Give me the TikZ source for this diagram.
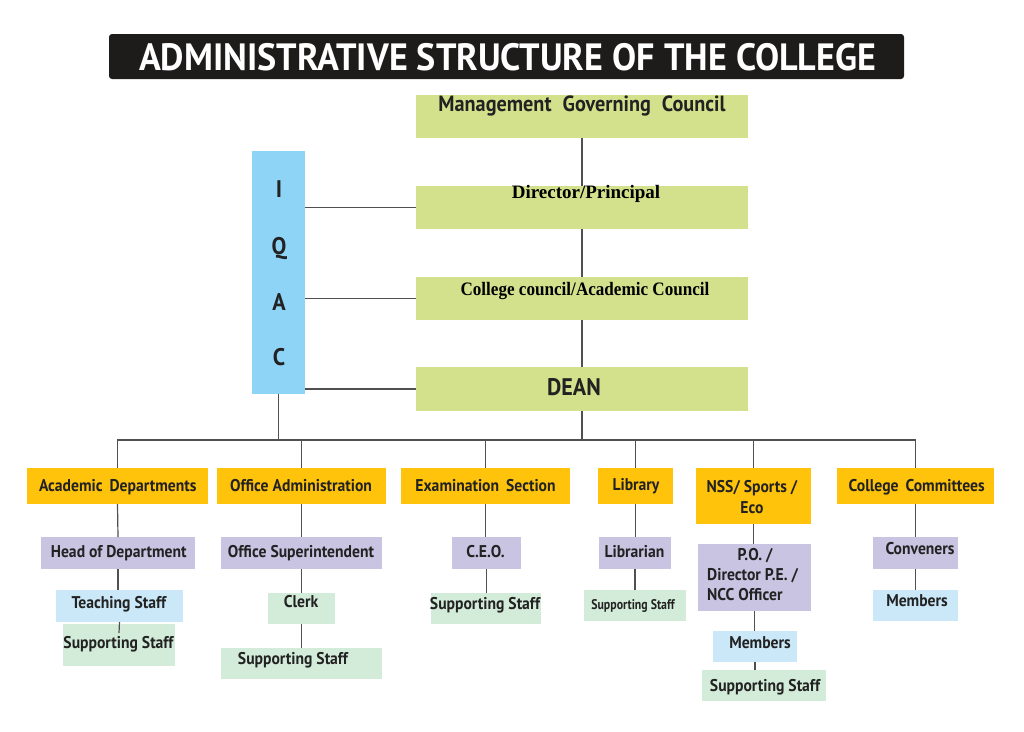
\documentclass[tikz,border=0pt]{standalone}
\usepackage{fontspec}
\setmainfont{PT Sans}
\newfontfamily\dg{PT Sans}[FakeStretch=0.92]
\newfontfamily\dgt{PT Sans}[FakeStretch=0.95]
\newfontfamily\tm{Liberation Serif}
\usetikzlibrary{fit,calc}
\definecolor{gold}{HTML}{FFC30B}
\definecolor{lime}{HTML}{D4E18C}
\definecolor{lav}{HTML}{C8C4E2}
\definecolor{sky}{HTML}{CAE8F8}
\definecolor{mint}{HTML}{D3ECD9}
\definecolor{iq}{HTML}{8ED4F7}
\definecolor{ln}{HTML}{505050}
\definecolor{ink}{HTML}{222222}
\definecolor{ttl}{HTML}{1E1B1B}
\newcommand{\bx}[6]{\node[bx,fill=#6,fit={(#2,#3)(#4,#5)}] (#1) {};}
\begin{document}
\begin{tikzpicture}[x=1pt,y=-1pt,
  bx/.style={inner sep=0pt,outer sep=0pt,draw=none},
  lbl/.style={inner sep=0pt,anchor=base,text=ink,font=\dg\bfseries\fontsize{17}{20}\selectfont},
  big/.style={lbl,font=\dg\bfseries\fontsize{22}{25}\selectfont},
  huge/.style={lbl,font=\dg\bfseries\fontsize{24}{26}\selectfont},
  serif/.style={inner sep=0pt,anchor=base,text=black,font=\tm\bfseries\fontsize{19}{22}\selectfont},
  conn/.style={draw=ln,line width=1.2pt}]
\useasboundingbox (0,0) rectangle (1024,731);
\fill[white] (0,0) rectangle (1024,731);
% title
\node[bx,fill=ttl,rounded corners=3pt,fit={(109,34)(904,79)}] (title) {};
\node[inner sep=0pt,anchor=base,text=white,font=\dgt\bfseries\fontsize{38}{42}\selectfont] (titlet) at (507.5,70) {ADMINISTRATIVE STRUCTURE OF THE COLLEGE};
% top column
\bx{mgc}{416}{95}{748}{138}{lime}
\bx{dir}{416}{186}{748}{229}{lime}
\bx{cc}{416}{277}{748}{320}{lime}
\bx{dean}{416}{367}{748}{411}{lime}
\bx{iqac}{252}{151}{305}{394}{iq}
\node[big] (mgct) at (582,111.5) {Management\hspace{6pt} Governing\hspace{6pt} Council};
\node[serif] (dirt) at (586,198.5) {Director/Principal};
\node[serif] (cct) at (585,295) {\scalebox{0.9}[1]{College council/Academic Council}};
\node[huge] (deant) at (574,395.5) {DEAN};
\foreach \l/\yy [count=\i] in {I/197,Q/254,A/310,C/365}
  \node[huge] (iq\i) at (279,\yy) {\l};
% level 1
\bx{ad}{27}{468}{208}{504}{gold}
\bx{oa}{217}{468}{386}{504}{gold}
\bx{es}{401}{468}{570}{504}{gold}
\bx{lib}{598}{468}{673}{504}{gold}
\bx{nss}{696}{468}{811}{524}{gold}
\bx{cm}{837}{468}{994}{504}{gold}
\node[lbl] (adt) at (117.7,491.5) {Academic\hspace{3pt} Departments};
\node[lbl] (oat) at (301,491.5) {Office Administration};
\node[lbl] (est) at (485.5,491.5) {Examination\hspace{3pt} Section};
\node[lbl] (libt) at (636,490.5) {Library};
\node[lbl] (nsst1) at (752,492.5) {NSS/ Sports /};
\node[lbl] (nsst2) at (752,513) {Eco};
\node[lbl] (cmt) at (916.7,491.5) {College\hspace{3pt} Committees};
% level 2
\bx{hod}{41}{537}{195}{569}{lav}
\bx{os}{221}{537}{382}{569}{lav}
\bx{ceo}{452}{537}{521}{569}{lav}
\bx{lbn}{599}{537}{671}{569}{lav}
\bx{po}{698}{544}{811}{611}{lav}
\bx{cv}{873}{537}{958}{569}{lav}
\node[lbl] (hodt) at (118.7,557) {Head of Department};
\node[lbl] (ost) at (301,557) {Office Superintendent};
\node[lbl] (ceot) at (485.5,557) {C.E.O.};
\node[lbl] (lbnt) at (634.5,557) {Librarian};
\node[lbl] (pot1) at (755,560) {P.O. /};
\node[lbl,anchor=base west] (pot2) at (707,580.5) {Director P.E. /};
\node[lbl,anchor=base west] (pot3) at (707,600) {NCC Officer};
\node[lbl] (cvt) at (920,554) {Conveners};
% level 3
\bx{ts}{56}{590}{183}{622}{sky}
\bx{clk}{268}{593}{335}{624}{mint}
\bx{es2}{431}{593}{541}{624}{mint}
\bx{ls}{584}{590}{686}{621}{mint}
\bx{nm}{713}{631}{797}{662}{sky}
\bx{cmm}{873}{590}{958}{621}{sky}
\node[lbl] (tst) at (118.8,608) {Teaching Staff};
\node[lbl] (clkt) at (301,607.5) {Clerk};
\node[lbl] (es2t) at (485,609) {Supporting Staff};
\node[lbl,font=\dg\bfseries\fontsize{14}{16}\selectfont] (lst) at (633,609) {\scalebox{0.92}[1]{Supporting Staff}};
\node[lbl] (nmt) at (760,648) {Members};
\node[lbl] (cmmt) at (917,606) {Members};
% level 4
\bx{as}{63}{624}{175}{666}{mint}
\bx{os2}{221}{648}{382}{679}{mint}
\bx{ns}{702}{670}{826}{701}{mint}
\node[lbl] (ast) at (118.5,648) {Supporting Staff};
\node[lbl] (os2t) at (293,664) {Supporting Staff};
\node[lbl] (nst) at (765,691.5) {Supporting Staff};
% connectors
\coordinate (bus) at (582,440);
\draw[conn] (mgc.south) -- (dir.north);
\draw[conn] (dir.south) -- (cc.north);
\draw[conn] (cc.south) -- (dean.north);
\draw[conn] (iqac.east |- dir) -- (dir.west);
\draw[conn] (iqac.east |- cc) -- (cc.west);
\draw[conn] (iqac.east |- dean) -- (dean.west);
\draw[conn] (dean.south) -- (bus);
\draw[conn] (iqac.south) -- (iqac.south |- bus);
\draw[conn] (ad.north) -- (ad.north |- bus) -- (cm.north |- bus) -- (cm.north);
\foreach \n in {oa,es,lib,nss} \draw[conn] (\n.north) -- (\n.north |- bus);
\draw[conn] (ad.south) -- (hod.north);
\draw[conn] (hod.south) -- (hod.south |- ts.north);
\draw[conn] (ts.south) -- ($(as.north)+(0,9)$);
\draw[conn] (oa.south) -- (oa.south |- os.north);
\draw[conn] (os.south) -- (os.south |- clk.north);
\draw[conn] (clk.south) -- (clk.south |- os2.north);
\draw[conn] (es.south) -- (es.south |- ceo.north);
\draw[conn] (ceo.south) -- (ceo.south |- es2.north);
\draw[conn] (lib.south) -- (lib.south |- lbn.north);
\draw[conn] (lbn.south) -- (lbn.south |- ls.north);
\draw[conn] (nss.south) -- (nss.south |- po.north);
\draw[conn] (po.south) -- (po.south |- nm.north);
\draw[conn] (nm.south) -- (nm.south |- ns.north);
\draw[conn] (cm.south) -- (cm.south |- cv.north);
\draw[conn] (cv.south) -- (cv.south |- cmm.north);
\end{tikzpicture}
\end{document}
